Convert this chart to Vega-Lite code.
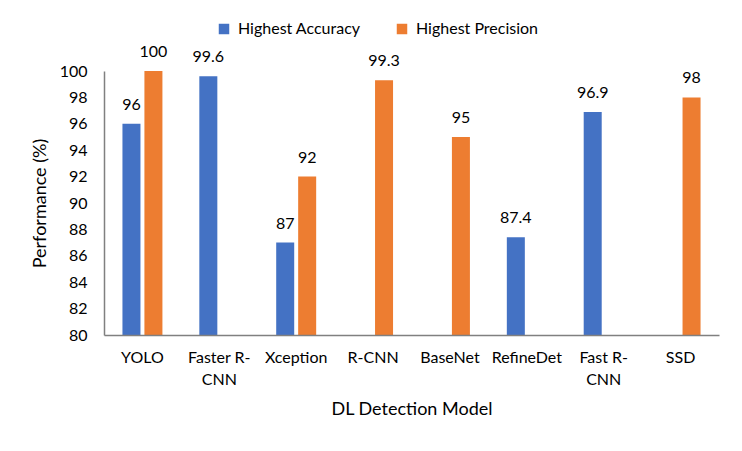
{
  "$schema": "https://vega.github.io/schema/vega-lite/v6.json",
  "autosize": {"type": "none"},
  "width": 615,
  "height": 264,
  "padding": {"left": 104, "top": 71, "right": 23, "bottom": 116},
  "config": {
    "font": "Lato",
    "view": {"stroke": null},
    "axis": {"labelColor": "#000000", "titleColor": "#000000", "labelFont": "Lato", "titleFont": "Lato"}
  },
  "data": {
    "values": [
      {"model": "YOLO", "metric": "Highest Accuracy", "value": 96},
      {"model": "YOLO", "metric": "Highest Precision", "value": 100},
      {"model": "Faster R-CNN", "metric": "Highest Accuracy", "value": 99.6},
      {"model": "Xception", "metric": "Highest Accuracy", "value": 87},
      {"model": "Xception", "metric": "Highest Precision", "value": 92},
      {"model": "R-CNN", "metric": "Highest Precision", "value": 99.3},
      {"model": "BaseNet", "metric": "Highest Precision", "value": 95},
      {"model": "RefineDet", "metric": "Highest Accuracy", "value": 87.4},
      {"model": "Fast R-CNN", "metric": "Highest Accuracy", "value": 96.9},
      {"model": "SSD", "metric": "Highest Precision", "value": 98}
    ]
  },
  "encoding": {
    "x": {
      "field": "model",
      "type": "nominal",
      "sort": null,
      "scale": {"paddingInner": 0, "paddingOuter": 0},
      "axis": {
        "title": "DL Detection Model",
        "titleFontSize": 18,
        "titleFontWeight": "normal",
        "titlePadding": 13,
        "labelAngle": 0,
        "labelFontSize": 16,
        "labelPadding": 14,
        "labelLineHeight": 22,
        "labelExpr": "datum.label == 'Faster R-CNN' ? ['Faster R-', 'CNN'] : datum.label == 'Fast R-CNN' ? ['Fast R-', 'CNN'] : datum.label",
        "ticks": false,
        "domainColor": "#808080",
        "domainWidth": 1.5,
        "zindex": 1
      }
    },
    "xOffset": {
      "field": "metric",
      "type": "nominal",
      "scale": {"paddingInner": 0.18, "paddingOuter": 0.84}
    },
    "y": {
      "field": "value",
      "type": "quantitative",
      "scale": {"domain": [80, 100], "zero": false, "nice": false},
      "axis": {
        "title": "Performance (%)",
        "titleFontSize": 18,
        "titleFontWeight": "normal",
        "titlePadding": 10,
        "values": [80, 82, 84, 86, 88, 90, 92, 94, 96, 98, 100],
        "labelFontSize": 16,
        "labelPadding": 17,
        "ticks": false,
        "grid": false,
        "domainColor": "#808080",
        "domainWidth": 1.5,
        "zindex": 1
      }
    }
  },
  "layer": [
    {
      "mark": {"type": "bar", "clip": true},
      "encoding": {
        "color": {
          "field": "metric",
          "type": "nominal",
          "scale": {"domain": ["Highest Accuracy", "Highest Precision"], "range": ["#4472C4", "#ED7D31"]},
          "legend": {
            "title": null,
            "orient": "none",
            "direction": "horizontal",
            "legendX": 112,
            "legendY": -50,
            "symbolType": "square",
            "symbolSize": 110,
            "symbolStrokeWidth": 0,
            "labelFontSize": 16,
            "labelColor": "#000000",
            "labelOffset": 6,
            "columnPadding": 33
          }
        }
      }
    },
    {
      "mark": {"type": "text", "baseline": "alphabetic", "dy": -14, "fontSize": 16, "color": "#000000"},
      "encoding": {"text": {"field": "value", "type": "quantitative"}}
    }
  ]
}
